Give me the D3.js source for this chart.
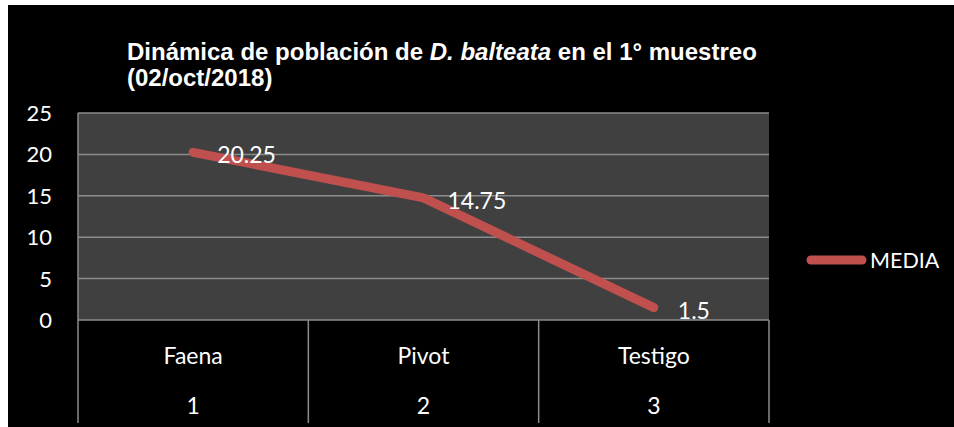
<!DOCTYPE html>
<html>
<head>
<meta charset="utf-8">
<script src="https://cdn.jsdelivr.net/npm/d3@7"></script>
<style>
  html, body { margin: 0; padding: 0; background: #fff; }
  svg { display: block; }
</style>
</head>
<body>
<script>
// chart data
const categories = ["Faena", "Pivot", "Testigo"];
const catNumbers = ["1", "2", "3"];
const media = [20.25, 14.75, 1.5];
const yTicks = [0, 5, 10, 15, 20, 25];
const seriesName = "MEDIA";

const width = 954, height = 427;
const plot = {left: 78, right: 769, top: 113, bottom: 320};
const tableBottom = 423;
const labelFont = "Lato, 'Noto Sans', sans-serif";
const red = "#C0504D";

const svg = d3.select("body").append("svg")
    .attr("width", width)
    .attr("height", height);

// background (white edge at top/left, black chart area)
svg.append("rect").attr("width", width).attr("height", height).attr("fill", "#fff");
svg.append("rect").attr("x", 8).attr("y", 5)
    .attr("width", width - 8).attr("height", height - 5).attr("fill", "#000");

const x = d3.scaleBand().domain(categories).range([plot.left, plot.right]);
const y = d3.scaleLinear().domain([0, 25]).range([plot.bottom, plot.top]);

// plot area
svg.append("rect")
    .attr("x", plot.left).attr("y", plot.top)
    .attr("width", plot.right - plot.left).attr("height", plot.bottom - plot.top)
    .attr("fill", "#404040");

// gridlines
svg.append("g").selectAll("line").data(yTicks).join("line")
    .attr("x1", plot.left).attr("x2", plot.right)
    .attr("y1", d => y(d)).attr("y2", d => y(d))
    .attr("stroke", "#8c8c8c").attr("stroke-width", 1.5);

// y axis labels
svg.append("g").selectAll("text").data(yTicks).join("text")
    .attr("x", 52).attr("y", d => y(d) + 8)
    .attr("text-anchor", "end")
    .attr("fill", "#fff")
    .attr("font-family", labelFont)
    .attr("font-size", 22)
    .text(d => d);

// axis line and table verticals
const bounds = categories.map(c => x(c)).concat([x(categories[categories.length - 1]) + x.bandwidth()]);
svg.append("g").selectAll("line").data(bounds).join("line")
    .attr("x1", d => d).attr("x2", d => d)
    .attr("y1", (d, i) => i === 0 ? plot.top : plot.bottom)
    .attr("y2", tableBottom)
    .attr("stroke", "#8c8c8c").attr("stroke-width", 1.5);

// category labels and numbers
svg.append("g").selectAll("text").data(categories).join("text")
    .attr("x", d => x(d) + x.bandwidth() / 2)
    .attr("y", 364)
    .attr("text-anchor", "middle")
    .attr("fill", "#fff")
    .attr("font-family", labelFont)
    .attr("font-size", 23)
    .text(d => d);

svg.append("g").selectAll("text").data(catNumbers).join("text")
    .attr("x", (d, i) => x(categories[i]) + x.bandwidth() / 2)
    .attr("y", 414)
    .attr("text-anchor", "middle")
    .attr("fill", "#fff")
    .attr("font-family", labelFont)
    .attr("font-size", 23)
    .text(d => d);

// the line
const pts = media.map((v, i) => ({cat: categories[i], v: v}));
const line = d3.line()
    .x(d => x(d.cat) + x.bandwidth() / 2)
    .y(d => y(d.v));

svg.append("path")
    .datum(pts)
    .attr("d", line)
    .attr("fill", "none")
    .attr("stroke", red)
    .attr("stroke-width", 9)
    .attr("stroke-linecap", "round")
    .attr("stroke-linejoin", "round");

// data labels
svg.append("g").selectAll("text").data(pts).join("text")
    .attr("x", d => x(d.cat) + x.bandwidth() / 2 + 24)
    .attr("y", d => y(d.v) + 11)
    .attr("fill", "#fff")
    .attr("font-family", labelFont)
    .attr("font-size", 23)
    .text(d => d.v);

// title
const title = svg.append("text")
    .attr("fill", "#fff")
    .attr("font-family", "'Liberation Sans', Arial, sans-serif")
    .attr("font-weight", "bold")
    .attr("font-size", 24);
const l1 = title.append("tspan").attr("x", 127).attr("y", 60);
l1.append("tspan").text("Dinámica de población de ");
l1.append("tspan").attr("font-style", "italic").text("D. balteata");
l1.append("tspan").text(" en el 1° muestreo");
title.append("tspan").attr("x", 127).attr("y", 86).text("(02/oct/2018)");

// legend
const legend = svg.append("g");
legend.append("line")
    .attr("x1", 811).attr("x2", 862)
    .attr("y1", 260).attr("y2", 260)
    .attr("stroke", red).attr("stroke-width", 9)
    .attr("stroke-linecap", "round");
legend.append("text")
    .attr("x", 870).attr("y", 268)
    .attr("fill", "#fff")
    .attr("font-family", labelFont)
    .attr("font-size", 21.5)
    .text(seriesName);
</script>
</body>
</html>
